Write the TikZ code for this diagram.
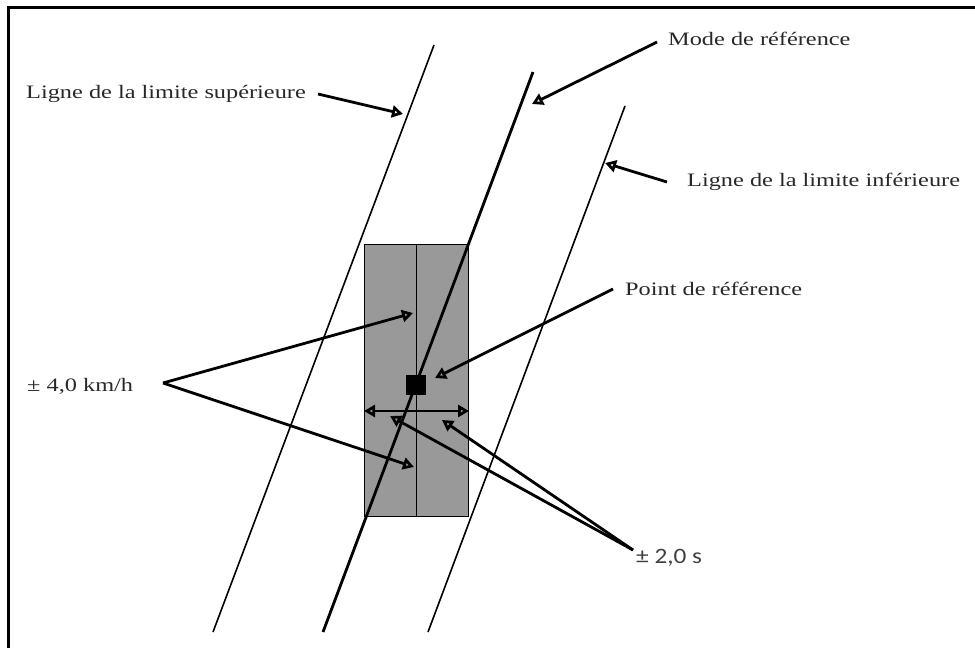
\documentclass[tikz,border=0pt]{standalone}
\usepackage{fontspec}
\setmainfont[FakeStretch=1.28]{Liberation Serif}
\newfontfamily\sansf[FakeStretch=1.15]{Carlito}
\usetikzlibrary{arrows.meta}
\definecolor{boxgrey}{RGB}{153,153,153}
\definecolor{txtgrey}{RGB}{40,40,40}
\begin{document}
\begin{tikzpicture}[x=1pt,y=-1pt,
  lbl/.style={anchor=base west,inner sep=0pt,text=txtgrey,font=\fontsize{19}{22}\selectfont},
  thinline/.style={line width=1.6pt},
  modeline/.style={line width=2.8pt},
  arr/.style={line width=2.8pt,-{Triangle[open,length=11pt,width=12pt]}},
  darr/.style={line width=2.8pt,{Triangle[open,length=11pt,width=12pt]}-{Triangle[open,length=11pt,width=12pt]}},
  ]
\useasboundingbox (0,0) rectangle (975,648);
% frame
\draw[line width=3pt] (8,648) -- (8,7) -- (975,7);
% grey box
\node[draw=black, line width=1.8pt, fill=boxgrey, minimum width=104pt, minimum height=272pt, inner sep=0pt, anchor=north west] (box) at (363.5,243.5) {};
\draw[thinline] (box.north) -- (box.south);
% inclined lines
\coordinate (u1) at (434,45);  \coordinate (u2) at (213,632);
\coordinate (m1) at (533,72);  \coordinate (m2) at (323,632);
\coordinate (l1) at (625,106); \coordinate (l2) at (428,632);
\draw[thinline] (u1) -- (u2);
\draw[modeline] (m1) -- (m2);
\draw[thinline] (l1) -- (l2);
% reference point
\node[fill=black, minimum size=20pt, inner sep=0pt] (pt) at (415.5,384.5) {};
% horizontal double arrow
\coordinate (hL) at (364,411); \coordinate (hR) at (469,411);
\draw[darr] (hL) -- (hR);
% labels
\node[lbl] (sup) at (26,98) {Ligne de la limite supérieure};
\node[lbl] (mode) at (668,45) {Mode de référence};
\node[lbl] (inf) at (687,186) {Ligne de la limite inférieure};
\node[lbl] (pref) at (625,295) {Point de référence};
\node[lbl] (kmh) at (27,391) {± 4,0 km/h};
\node[lbl, text=black!75, font=\sansf\fontsize{22}{24}\selectfont] (sec) at (636,563) {± 2,0 s};
% arrows
\coordinate (supS) at (318,94);  \coordinate (supT) at (403,114);
\draw[arr] (supS) -- (supT);
\coordinate (modeS) at (657,42); \coordinate (modeT) at (532,104);
\draw[arr] (modeS) -- (modeT);
\coordinate (infS) at (667,182); \coordinate (infT) at (605,163);
\draw[arr] (infS) -- (infT);
\coordinate (prefS) at (613,289); \coordinate (prefT) at (435,378);
\draw[arr] (prefS) -- (prefT);
\coordinate (kA) at (163,383); \coordinate (k1) at (413,313); \coordinate (k2) at (414,467);
\draw[arr] (kA) -- (k1);
\draw[arr] (kA) -- (k2);
\coordinate (sA) at (633,550); \coordinate (s1) at (390,416); \coordinate (s2) at (442,420);
\draw[arr] (sA) -- (s1);
\draw[arr] (sA) -- (s2);
\end{tikzpicture}
\end{document}
